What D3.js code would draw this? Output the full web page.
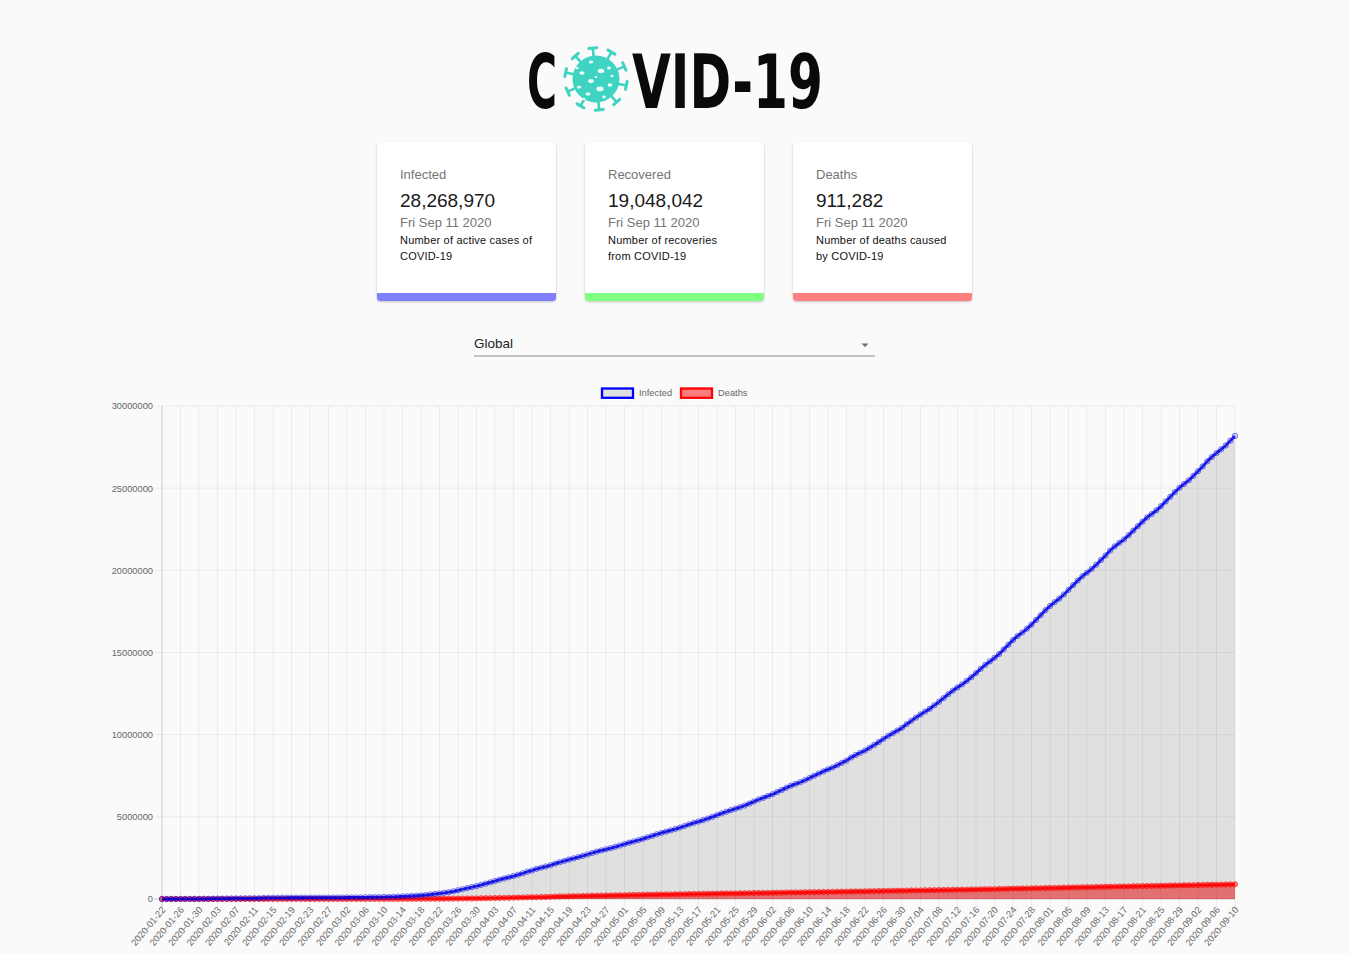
<!DOCTYPE html>
<html>
<head>
<meta charset="utf-8">
<script src="https://cdn.jsdelivr.net/npm/d3@7"></script>
<style>
  body { margin: 0; background: #fafafa; }
  svg { display: block; font-family: "Liberation Sans", Arial, sans-serif; }
</style>
</head>
<body>
<script>
const WIDTH = 1349;
const HEIGHT = 954;

// summary cards
const cardTitles = ["Infected", "Recovered", "Deaths"];
const cardValues = [28268970, 19048042, 911282];
const cardDates = ["Fri Sep 11 2020", "Fri Sep 11 2020", "Fri Sep 11 2020"];
const cardDescs = [
    ["Number of active cases of", "COVID-19"],
    ["Number of recoveries", "from COVID-19"],
    ["Number of deaths caused", "by COVID-19"]
];
const cardColors = ["#8080ff", "#80ff80", "#ff8080"];

const regionLabel = "Global";

// chart series, one value per day from 2020-01-22 to 2020-09-10
const seriesNames = ["Infected", "Deaths"];
const infected = [
    555, 654, 941, 1434, 2118, 2927, 5578, 6166, 8234, 9927,
    12038, 16787, 19887, 23898, 27643, 30802, 34395, 37129, 40159, 42762, 44802, 45221, 60368, 66885, 69030,
    71224, 73258, 75136, 75639, 76197, 76819, 78572, 78958, 79561, 80406, 81388, 82746, 84112, 86011,
    88369, 90306, 92840, 95120, 97886, 101801, 105847, 109821, 113590, 118620, 125875, 128352, 145205, 156101,
    167454, 181574, 197102, 214821, 242570, 272208, 304507, 336953, 378235, 418045, 467653, 529591, 593291,
    660706, 720117, 782365, 857487,
    932605, 1013157, 1095917, 1176060, 1249754, 1321481, 1396476, 1480202, 1565278, 1657526, 1735650, 1834721,
    1904838, 1976191, 2056054, 2152437, 2240190, 2317758, 2401378, 2472259, 2549123, 2624000, 2708000, 2797000,
    2881000, 2955000, 3024000, 3097000, 3172000, 3256000,
    3343000, 3427000, 3506000, 3583000, 3662000, 3755000, 3845000, 3938000, 4024000, 4101000, 4177000, 4261000,
    4347000, 4442000, 4542000, 4634000, 4714000, 4801000, 4897000, 4996000, 5103000, 5210000, 5310000, 5408000,
    5495000, 5589000, 5691000, 5808000, 5932000, 6057000, 6157000,
    6266000, 6378000, 6506000, 6637000, 6766000, 6895000, 7004000, 7109000, 7230000, 7364000, 7502000, 7632000,
    7765000, 7888000, 8005000, 8146000, 8286000, 8425000, 8609000, 8766000, 8902000, 9041000, 9206000, 9376000,
    9559000, 9746000, 9925000, 10086000, 10250000, 10418000,
    10636000, 10842000, 11036000, 11228000, 11403000, 11576000, 11790000, 12003000, 12232000, 12462000, 12683000,
    12875000, 13063000, 13275000, 13498000, 13747000, 14005000, 14248000, 14461000, 14675000, 14909000, 15193000,
    15475000, 15759000, 16007000, 16216000, 16447000, 16696000, 16988000, 17277000, 17572000,
    17826000, 18058000, 18279000, 18530000, 18811000, 19097000, 19378000, 19640000, 19862000, 20082000, 20344000,
    20624000, 20906000, 21200000, 21459000, 21672000, 21879000, 22140000, 22416000, 22689000, 22963000, 23219000,
    23432000, 23652000, 23903000, 24191000, 24475000, 24763000, 25028000, 25257000, 25481000,
    25753000, 26035000, 26322000, 26635000, 26903000, 27140000, 27368000, 27600000, 27893000, 28180000
];
const deaths = [
    17, 18, 26, 42, 56, 82, 131, 133, 171, 213,
    259, 362, 426, 492, 564, 634, 719, 806, 906, 1013, 1113, 1118, 1371, 1523, 1666, 1770, 1868, 2007, 2122,
    2247, 2251, 2458, 2469, 2629, 2708, 2770, 2814, 2872, 2941,
    2996, 3085, 3160, 3254, 3348, 3460, 3558, 3803, 3996, 4262, 4615, 4720, 5404, 5819, 6440, 7126, 7905, 8733,
    9867, 11299, 12973, 14651, 16505, 18625, 21181, 23970, 27198, 30652, 33925, 37582, 42107,
    46809, 52983, 58787, 64606, 69374, 74565, 81865, 88338, 95455, 102525, 108503, 114090, 119481, 125983,
    134176, 143800, 153822, 159510, 165044, 170423, 177641, 184681, 191052, 197245, 202846, 206544, 211167,
    217153, 224172, 230036,
    235707, 240991, 244832, 248677, 254601, 261025, 266595, 271946, 276215, 279651, 283197, 288862, 294187,
    299435, 304560, 308802, 312086, 315621, 320396, 325233, 330075, 335195, 339285, 342309, 343649, 347587,
    352814, 357849, 362713, 366833, 369824,
    373049, 378242, 383377, 388407, 393269, 397261, 400115, 403742, 408669, 413714, 418719, 422888, 427153,
    430511, 434244, 440968, 446224, 451283, 456119, 460407, 463862, 467480, 472955, 478339, 485126, 490078,
    494334, 497583, 501170, 506431,
    511466, 516386, 521535, 525735, 529197, 532743, 538537, 543966, 549357, 554716, 559730, 563434, 567229,
    572933, 578347, 584213, 590022, 595260, 599349, 603305, 610141, 617323, 623512, 629849, 635202, 639036,
    643191, 649734, 656317, 662596, 668637,
    674119, 678136, 682685, 689316, 696129, 702737, 708871, 714269, 718542, 723725, 730115, 736692, 742768,
    748774, 754103, 758119, 762678, 769158, 775745, 781642, 787534, 792904, 796958, 801461, 807732, 814035,
    819774, 825441, 830854, 835225, 839580,
    845628, 851914, 857750, 863352, 868449, 872543, 876528, 881571, 887648, 893602
];
const yTicks = [0, 5000000, 10000000, 15000000, 20000000, 25000000, 30000000];

const fmtDay = d3.timeFormat("%Y-%m-%d");
const dates = d3.timeDay.range(new Date(2020, 0, 22), new Date(2020, 8, 11)).map(fmtDay);
const xLabels = dates.filter((d, i) => i % 4 === 0);

const svg = d3.select("body")
    .append("svg")
    .attr("width", WIDTH)
    .attr("height", HEIGHT);

const defs = svg.append("defs");
const shadow = defs.append("filter")
    .attr("id", "card-shadow")
    .attr("x", "-10%").attr("y", "-10%")
    .attr("width", "120%").attr("height", "120%");
shadow.append("feDropShadow")
    .attr("dx", 0).attr("dy", 1)
    .attr("stdDeviation", 1.3)
    .attr("flood-color", "#000")
    .attr("flood-opacity", 0.22);

// ---- logo ----
const logo = svg.append("g");
const logoFont = "'Liberation Sans Narrow','DejaVu Sans Condensed','DejaVu Sans',sans-serif";
logo.append("text")
    .attr("x", 527).attr("y", 108)
    .attr("textLength", 30).attr("lengthAdjust", "spacingAndGlyphs")
    .style("font-family", logoFont).style("font-weight", 700)
    .style("font-size", "74px").style("fill", "#0a0a0a")
    .text("C");
logo.append("text")
    .attr("x", 632).attr("y", 108)
    .attr("textLength", 191).attr("lengthAdjust", "spacingAndGlyphs")
    .style("font-family", logoFont).style("font-weight", 700)
    .style("font-size", "74px").style("fill", "#0a0a0a")
    .text("VID-19");

const virus = logo.append("g").attr("transform", "translate(596,79)");
const teal = "#3fd3c1";
d3.range(10).forEach(k => {
    const a = (-96 + k * 36) * Math.PI / 180;
    const g = virus.append("g").attr("transform", `rotate(${a * 180 / Math.PI})`);
    g.append("line")
        .attr("x1", 20).attr("y1", 0).attr("x2", 31).attr("y2", 0)
        .attr("stroke", teal).attr("stroke-width", 2.6);
    g.append("line")
        .attr("x1", 31).attr("y1", -4).attr("x2", 31).attr("y2", 4)
        .attr("stroke", teal).attr("stroke-width", 3).attr("stroke-linecap", "round");
});
virus.append("circle").attr("r", 23.5).attr("fill", teal);
const holes = [
    [-5, -17, 2.2, 1.6], [5, -8, 3.2, 2.2], [-14, -6, 2.6, 1.8], [13, -11, 2, 1.5],
    [-17, 8, 2.2, 1.6], [-5, 2, 2.8, 2], [4, 10, 3.6, 2.4], [-8, 15, 2.6, 1.8],
    [14, 6, 2.4, 1.8], [8, 18, 1.8, 1.4], [-19, -11, 1.6, 1.3], [16, -3, 1.6, 1.2],
    [-12, 20, 1.5, 1.2], [0, -2, 1.4, 1.1]
];
virus.selectAll("ellipse.hole")
    .data(holes)
    .enter()
    .append("ellipse")
    .attr("class", "hole")
    .attr("cx", d => d[0]).attr("cy", d => d[1])
    .attr("rx", d => d[2]).attr("ry", d => d[3])
    .attr("fill", "#eafcf9");

// ---- cards ----
const CARD_X = [377, 585, 793];
const CARD_Y = 142;
const CARD_W = 179;
const CARD_H = 159;
const fmtNum = d3.format(",");

cardTitles.forEach((title, i) => {
    const g = svg.append("g").attr("transform", `translate(${CARD_X[i]},${CARD_Y})`);
    g.append("rect")
        .attr("width", CARD_W).attr("height", CARD_H)
        .attr("rx", 4).attr("fill", "#fff")
        .attr("filter", "url(#card-shadow)");
    g.append("rect")
        .attr("y", CARD_H - 8).attr("width", CARD_W).attr("height", 8)
        .attr("rx", 3).attr("fill", cardColors[i]);
    g.append("rect")
        .attr("y", CARD_H - 8).attr("width", CARD_W).attr("height", 4)
        .attr("fill", cardColors[i]);
    g.append("text")
        .attr("x", 23).attr("y", 37)
        .style("font-size", "13px").style("fill", "#757575")
        .text(title);
    g.append("text")
        .attr("x", 23).attr("y", 65)
        .style("font-size", "19px").style("fill", "#1a1a1a")
        .text(fmtNum(cardValues[i]));
    g.append("text")
        .attr("x", 23).attr("y", 84.5)
        .style("font-size", "13px").style("fill", "#757575")
        .text(cardDates[i]);
    cardDescs[i].forEach((line, j) => {
        g.append("text")
            .attr("x", 23).attr("y", 101.5 + j * 16)
            .style("font-size", "11px").style("letter-spacing", "0.2px")
            .style("fill", "#111")
            .text(line);
    });
});

// ---- region select ----
const sel = svg.append("g");
sel.append("text")
    .attr("x", 474).attr("y", 347.5)
    .style("font-size", "13.5px").style("fill", "#222")
    .text(regionLabel);
sel.append("line")
    .attr("x1", 474).attr("x2", 875)
    .attr("y1", 356).attr("y2", 356)
    .attr("stroke", "#8c8c8c").attr("stroke-width", 1);
sel.append("path")
    .attr("d", "M861.5,343.5 L868.5,343.5 L865,347 Z")
    .attr("fill", "#6e6e6e");

// ---- chart ----
const PLOT = { left: 162, right: 1235, top: 406, bottom: 899 };
const CHART_FONT = "9.3px";
const TICK_COLOR = "#666";

const x = d3.scalePoint()
    .domain(dates)
    .range([PLOT.left, PLOT.right]);

const y = d3.scaleLinear()
    .domain([0, 30000000])
    .range([PLOT.bottom, PLOT.top]);

const chart = svg.append("g");

// gridlines
chart.append("g")
    .selectAll("line")
    .data(xLabels)
    .enter()
    .append("line")
    .attr("x1", d => x(d)).attr("x2", d => x(d))
    .attr("y1", PLOT.top).attr("y2", PLOT.bottom + 8)
    .attr("stroke", (d, i) => i === 0 ? "rgba(0,0,0,0.25)" : "rgba(0,0,0,0.08)")
    .attr("stroke-width", 0.8);

chart.append("g")
    .selectAll("line")
    .data(yTicks)
    .enter()
    .append("line")
    .attr("x1", PLOT.left - 8).attr("x2", PLOT.right)
    .attr("y1", d => y(d)).attr("y2", d => y(d))
    .attr("stroke", d => d === 0 ? "rgba(0,0,0,0.25)" : "rgba(0,0,0,0.08)")
    .attr("stroke-width", 0.8);

// axes (labels only, lines are drawn as gridlines)
const yAxis = chart.append("g")
    .attr("transform", `translate(${PLOT.left},0)`)
    .call(d3.axisLeft(y).tickValues(yTicks).tickFormat(d3.format("d")).tickSize(0).tickPadding(9));
yAxis.select(".domain").remove();
yAxis.selectAll("text")
    .style("font-family", "'Liberation Sans', Arial, sans-serif")
    .style("font-size", CHART_FONT)
    .style("fill", TICK_COLOR);

const xAxis = chart.append("g")
    .attr("transform", `translate(0,${PLOT.bottom})`)
    .call(d3.axisBottom(x).tickValues(xLabels).tickSize(0));
xAxis.select(".domain").remove();
xAxis.selectAll("text")
    .attr("x", 0).attr("y", 0).attr("dy", "0.35em")
    .attr("transform", "translate(1,9) rotate(-50)")
    .style("text-anchor", "end")
    .style("font-family", "'Liberation Sans', Arial, sans-serif")
    .style("font-size", CHART_FONT)
    .style("fill", TICK_COLOR);

// series
const series = [
    { name: seriesNames[1], values: deaths, line: "#ff0000", fill: "rgba(255,0,0,0.5)" },
    { name: seriesNames[0], values: infected, line: "#0000ff", fill: "rgba(0,0,0,0.1)" }
];

const area = d3.area()
    .x((d, i) => x(dates[i]))
    .y0(y(0))
    .y1(d => y(d))
    .curve(d3.curveMonotoneX);

const line = d3.line()
    .x((d, i) => x(dates[i]))
    .y(d => y(d))
    .curve(d3.curveMonotoneX);

series.forEach(s => {
    chart.append("path")
        .datum(s.values)
        .attr("d", area)
        .attr("fill", s.fill);
});

series.forEach(s => {
    chart.append("path")
        .datum(s.values)
        .attr("d", line)
        .attr("fill", "none")
        .attr("stroke", s.line)
        .attr("stroke-opacity", 0.85)
        .attr("stroke-width", 2.8);
    chart.append("g")
        .selectAll("circle")
        .data(s.values)
        .enter()
        .append("circle")
        .attr("cx", (d, i) => x(dates[i]))
        .attr("cy", d => y(d))
        .attr("r", 2.7)
        .attr("fill", s.fill)
        .attr("stroke", s.line)
        .attr("stroke-opacity", 0.55)
        .attr("stroke-width", 0.9);
});

// legend
const legendItems = [
    { name: seriesNames[0], x: 601, line: "#0000ff", fill: "rgba(0,0,0,0.1)" },
    { name: seriesNames[1], x: 680, line: "#ff0000", fill: "rgba(255,0,0,0.5)" }
];
const legend = chart.append("g");
legendItems.forEach(item => {
    legend.append("rect")
        .attr("x", item.x + 1).attr("y", 388.5)
        .attr("width", 31).attr("height", 9.3)
        .attr("fill", item.fill)
        .attr("stroke", item.line)
        .attr("stroke-width", 2.3);
    legend.append("text")
        .attr("x", item.x + 38).attr("y", 393.2)
        .attr("dy", "0.35em")
        .style("font-size", CHART_FONT)
        .style("fill", TICK_COLOR)
        .text(item.name);
});
</script>
</body>
</html>
